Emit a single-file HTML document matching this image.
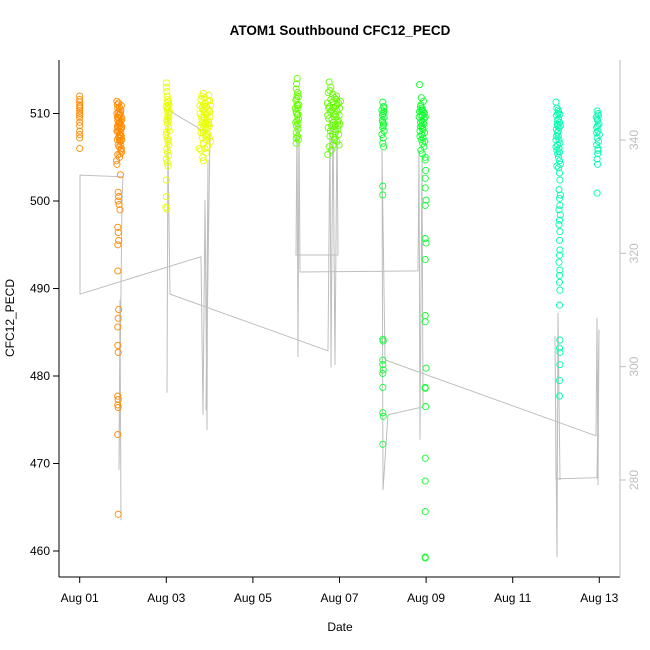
<!DOCTYPE html>
<html><head><meta charset="utf-8"><style>
html,body{margin:0;padding:0;background:#fff;}
svg{display:block;font-family:"Liberation Sans",sans-serif;}
</style></head><body>
<svg id="chart" width="650" height="650" viewBox="0 0 650 650" xmlns="http://www.w3.org/2000/svg">
<rect width="650" height="650" fill="#fff"/>
<text x="340" y="35" text-anchor="middle" font-size="13.5" font-weight="bold">ATOM1 Southbound CFC12_PECD</text>
<text x="340" y="631" text-anchor="middle" font-size="12">Date</text>
<text transform="translate(14,318) rotate(-90)" text-anchor="middle" font-size="12">CFC12_PECD</text>
<g id="grayline"></g>
<g id="points"></g>
<g id="axes"></g>
</svg>
<script>
const xTickLabels = ["Aug 01","Aug 03","Aug 05","Aug 07","Aug 09","Aug 11","Aug 13"];
const xTickDays = [1,3,5,7,9,11,13];
const yLeftTicks = [460,470,480,490,500,510];
const yRightTicks = [280,300,320,340];
const clusterColors = ["#FF8A00","#FF8A00","#E8FF00","#E8FF00","#66FF00","#66FF00","#10FF30","#10FF30","#00FFB0","#00FFB0"];
const c1=[[1.0,512.0],[1.0,511.6],[1.0,511.3],[1.0,511.0],[1.0,510.8],[1.0,510.6],[1.0,510.3],[1.0,510.0],[1.0,509.8],[1.0,509.5],[1.0,509.0],[1.0,508.6],[1.0,508.0],[1.0,507.6],[1.0,507.2],[1.0,506.0]];
const c2=[[1.86,511.4],[1.87,511.0],[1.88,510.6],[1.89,510.2],[1.90,509.8],[1.91,509.4],[1.92,509.0],[1.93,508.6],[1.94,508.2],[1.95,507.8],[1.96,507.4],[1.97,507.0],[1.86,510.0],[1.87,509.6],[1.88,509.2],[1.89,508.8],[1.90,508.4],[1.91,508.0],[1.92,507.6],[1.93,507.2],[1.94,506.8],[1.95,506.4],[1.96,506.0],[1.97,505.6],[1.88,505.3],[1.92,505.0],[1.95,505.8],[1.97,508.5],[1.96,509.6],[1.95,510.4],[1.86,508.0],[1.87,507.0],[1.89,506.4],[1.91,506.2],[1.93,505.4],[1.90,511.2],[1.92,510.7],[1.94,510.1],[1.96,510.9],[1.89,509.5],[1.91,508.9],[1.93,509.9],[1.95,509.1],[1.97,509.3],[1.88,507.9],[1.90,507.3],[1.92,506.9],[1.94,507.5],[1.96,508.3],[1.87,508.5],[1.85,504.6],[1.86,504.2],[1.94,503.0],[1.89,501.0],[1.90,500.5],[1.89,500.0],[1.91,499.6],[1.93,499.0],[1.88,497.0],[1.89,496.4],[1.90,495.5],[1.88,495.0],[1.88,492.0],[1.90,487.6],[1.89,486.6],[1.88,485.6],[1.88,483.5],[1.89,482.7],[1.88,477.7],[1.89,477.3],[1.88,476.7],[1.89,476.4],[1.88,473.3],[1.89,464.2]];
const c3=[[3.00,513.5],[3.00,513.0],[3.01,512.5],[3.02,512.0],[3.03,511.6],[3.05,511.4],[3.06,511.0],[3.00,510.8],[3.02,510.4],[3.04,510.0],[3.06,509.6],[3.01,509.2],[3.03,508.8],[3.05,508.4],[3.07,508.0],[3.00,507.6],[3.02,507.2],[3.04,506.8],[3.06,506.4],[3.01,506.0],[3.03,505.6],[3.05,505.2],[3.00,504.8],[3.02,504.4],[3.04,504.0],[3.02,511.2],[3.04,509.2],[3.03,510.6],[3.01,507.9],[3.05,507.0],[3.03,509.6],[3.00,502.4],[3.00,500.5],[2.99,499.3],[3.01,499.1],[3.04,510.8],[3.07,510.2]];
const c4=[[3.78,510.9],[3.80,511.6],[3.82,512.0],[3.85,512.3],[3.88,511.8],[3.90,511.2],[3.93,510.8],[3.96,511.4],[3.98,512.1],[4.00,511.5],[4.02,510.9],[3.78,510.0],[3.81,509.6],[3.84,509.2],[3.87,508.8],[3.90,508.4],[3.93,508.0],[3.96,507.6],[3.99,507.2],[4.02,506.8],[3.80,507.8],[3.83,507.2],[3.86,506.6],[3.89,506.0],[3.92,505.5],[3.95,506.2],[3.98,509.0],[4.01,509.6],[3.79,508.4],[3.82,508.9],[3.85,510.4],[3.88,510.1],[3.91,509.9],[3.94,509.4],[3.97,510.5],[4.00,510.2],[3.87,509.6],[3.89,510.8],[3.91,508.9],[3.93,509.2],[3.95,510.0],[3.99,508.6],[3.84,508.2],[3.86,507.8],[3.90,507.5],[3.97,508.8],[3.76,506.0],[3.80,505.8],[3.84,505.0],[3.86,504.6],[3.92,507.0],[3.96,508.4],[3.86,511.0],[3.83,510.7]];
const c5=[[6.02,514.0],[6.01,513.4],[6.00,512.8],[6.03,512.4],[6.05,511.9],[5.99,511.5],[6.02,511.0],[6.04,510.6],[6.00,510.2],[6.03,509.8],[6.05,509.4],[5.99,509.0],[6.01,508.6],[6.04,508.2],[6.00,507.8],[6.03,507.4],[6.05,507.0],[6.00,506.6],[6.02,512.0],[6.06,511.0],[6.01,510.0],[6.04,508.8],[5.98,510.6],[6.00,507.2],[6.02,509.2],[6.03,510.9],[6.01,511.7],[6.04,509.9]];
const c6=[[6.76,513.6],[6.80,513.0],[6.74,512.4],[6.84,512.2],[6.88,511.8],[6.93,511.6],[6.98,511.2],[6.72,511.2],[6.77,510.8],[6.82,510.4],[6.87,510.0],[6.92,509.6],[6.97,509.2],[7.01,508.8],[6.74,508.4],[6.79,508.0],[6.84,507.6],[6.89,507.2],[6.94,506.8],[6.99,506.4],[6.76,506.2],[6.81,505.8],[6.73,505.3],[6.86,509.0],[6.91,510.8],[6.96,508.2],[6.75,509.4],[6.80,511.6],[7.00,510.6],[6.88,507.0],[6.93,512.0],[6.73,509.8],[6.78,512.6],[6.85,506.4],[6.98,507.6],[6.90,508.6],[6.78,507.4],[7.02,511.4],[6.83,509.3],[6.86,510.7],[6.90,509.9],[6.94,510.3],[6.96,509.0],[6.79,510.2],[6.82,508.6],[6.88,508.2],[6.95,511.0],[6.99,509.8],[6.75,510.6],[6.92,507.9],[6.84,511.3],[6.97,508.6]];
const c7=[[8.00,511.3],[8.02,510.8],[7.98,510.4],[8.01,510.0],[8.03,509.6],[7.99,509.2],[8.02,508.8],[8.00,508.4],[8.03,508.0],[7.98,507.6],[8.01,507.2],[8.00,506.6],[8.02,506.2],[7.99,509.8],[8.03,510.6],[8.01,508.6],[8.00,509.0],[8.02,510.2],[8.00,501.7],[8.00,500.7],[8.00,484.2],[8.01,484.0],[8.00,481.8],[8.00,481.3],[8.01,480.7],[8.00,480.3],[8.00,478.7],[8.00,475.8],[8.01,475.4],[8.00,472.2]];
const c8=[[8.85,513.3],[8.88,511.0],[8.90,510.6],[8.85,510.2],[8.92,509.8],[8.95,509.4],[8.87,509.0],[8.90,508.6],[8.93,508.2],[8.96,507.8],[8.86,507.4],[8.89,507.0],[8.92,506.6],[8.95,506.2],[8.88,505.8],[8.91,505.4],[8.94,511.4],[8.87,510.8],[8.90,509.2],[8.93,507.2],[8.96,510.0],[8.86,508.0],[8.89,511.8],[8.92,510.4],[8.95,508.8],[8.98,509.6],[8.84,509.6],[8.97,506.8],[8.88,509.8],[8.91,508.3],[8.94,510.2],[8.89,510.4],[8.93,509.0],[8.87,508.5],[8.90,507.6],[8.98,505.0],[8.98,504.7],[8.99,503.5],[8.98,502.6],[8.98,501.5],[9.00,500.1],[8.98,499.5],[8.98,495.7],[9.00,495.2],[8.98,493.3],[8.98,486.9],[8.98,486.2],[9.00,480.9],[8.98,478.7],[8.98,478.6],[8.99,476.5],[8.98,470.6],[8.98,468.0],[8.98,464.5],[8.98,459.3],[8.98,459.2]];
const c9=[[12.00,511.3],[12.02,510.6],[12.04,510.0],[12.06,509.4],[12.08,509.0],[12.10,508.6],[12.01,508.2],[12.03,507.8],[12.05,507.4],[12.07,507.0],[12.09,506.6],[12.00,506.2],[12.02,505.8],[12.04,505.4],[12.06,505.0],[12.08,504.6],[12.10,504.2],[12.01,509.8],[12.05,510.4],[12.09,509.9],[12.03,508.8],[12.07,508.4],[12.00,507.0],[12.04,506.4],[12.08,505.6],[12.02,504.0],[12.06,503.8],[12.03,509.2],[12.05,508.0],[12.07,506.0],[12.01,507.4],[12.04,508.6],[12.06,510.2],[12.08,503.2],[12.09,502.4],[12.07,501.3],[12.10,500.7],[12.08,500.3],[12.09,499.5],[12.07,499.0],[12.10,498.4],[12.08,497.8],[12.07,497.3],[12.09,496.5],[12.08,495.5],[12.09,494.4],[12.08,493.8],[12.07,493.0],[12.09,492.1],[12.08,491.5],[12.08,490.7],[12.09,489.8],[12.08,488.1],[12.09,484.1],[12.08,483.2],[12.09,482.7],[12.09,481.3],[12.08,479.5],[12.08,477.7]];
const c10=[[12.95,510.3],[12.97,510.0],[12.93,509.6],[12.96,509.2],[12.99,508.8],[12.94,508.4],[12.97,508.0],[13.00,507.6],[12.95,507.2],[12.98,506.8],[12.94,506.4],[12.97,506.0],[12.96,505.4],[12.95,504.8],[12.96,504.2],[12.98,509.8],[12.94,507.8],[12.97,505.8],[12.96,508.6],[12.95,509.4],[12.95,500.9]];
const clusters=[c1,c2,c3,c4,c5,c6,c7,c8,c9,c10];
const lineDays=[1.954,1.931,1.908,1.977,2.000,1.007,1.007,3.801,3.848,3.894,3.940,3.963,3.917,4.009,3.039,3.016,3.039,3.085,6.734,6.781,6.804,6.850,6.896,6.942,6.965,5.995,6.018,6.041,6.064,6.087,8.813,8.836,8.859,8.905,8.928,8.120,8.005,7.982,8.051,12.924,12.947,12.970,12.993,12.947,12.000,11.977,12.023,12.046,12.092];
const lineVals=[272.9,311.8,281.8,329.4,333.5,333.8,312.8,319.4,291.5,329.4,288.8,336.5,292.4,340.9,345.3,295.4,338.2,312.8,302.8,343.5,299.8,344.4,300.3,343.5,319.7,319.7,343.5,301.7,344.4,316.7,316.9,338.2,287.1,336.5,292.9,291.5,278.2,338.2,301.2,287.8,308.6,279.1,306.5,280.4,280.2,305.4,266.4,309.5,280.0];

const NS="http://www.w3.org/2000/svg";
const PL=59,PR=620,PT=60,PB=577;
function xScale(d){return 79.7+(d-1)*43.3;}
function yLeft(v){return 551-(v-460)*8.75;}
function yRight(v){return 480-(v-280)*5.667;}
function mk(tag,attrs,parent){const e=document.createElementNS(NS,tag);for(const k in attrs)e.setAttribute(k,attrs[k]);parent.appendChild(e);return e;}

const gl=document.getElementById('grayline');
let pts=lineDays.map((d,i)=>xScale(d).toFixed(1)+','+yRight(lineVals[i]).toFixed(1)).join(' ');
const pl=mk('polyline',{points:pts,fill:'none',stroke:'#BEBEBE','stroke-width':1},gl);



const pg=document.getElementById('points');
clusters.forEach((c,ci)=>{
  const g=mk('g',{},pg);
  
  
  c.forEach(p=>{
    const el=mk('circle',{cx:xScale(p[0]).toFixed(1),cy:yLeft(p[1]).toFixed(1),r:3.1,fill:'none',stroke:clusterColors[ci],'stroke-width':0.9},g);
    
    
  });
});

const ax=document.getElementById('axes');
mk('line',{x1:PL,y1:PT,x2:PL,y2:PB,stroke:'#000'},ax);
mk('line',{x1:PL,y1:PB,x2:PR,y2:PB,stroke:'#000'},ax);
mk('line',{x1:PR,y1:PT,x2:PR,y2:PB,stroke:'#BEBEBE'},ax);
xTickDays.forEach((d,i)=>{
  const x=xScale(d);
  mk('line',{x1:x,y1:PB,x2:x,y2:PB+6,stroke:'#000'},ax);
  const t=mk('text',{x:x,y:PB+25,'text-anchor':'middle','font-size':12},ax);
  t.textContent=xTickLabels[i];
  
  
});
yLeftTicks.forEach(v=>{
  const y=yLeft(v);
  mk('line',{x1:PL-6,y1:y,x2:PL,y2:y,stroke:'#000'},ax);
  const t=mk('text',{x:PL-9,y:y+4,'text-anchor':'end','font-size':12},ax);
  t.textContent=v;
  
  
});
yRightTicks.forEach(v=>{
  const y=yRight(v);
  mk('line',{x1:PR,y1:y,x2:PR+6,y2:y,stroke:'#BEBEBE'},ax);
  const t=mk('text',{transform:'translate('+(PR+18)+','+y+') rotate(-90)','text-anchor':'middle','font-size':12,fill:'#BEBEBE'},ax);
  t.textContent=v;
  
  
});
</script>
</body></html>
